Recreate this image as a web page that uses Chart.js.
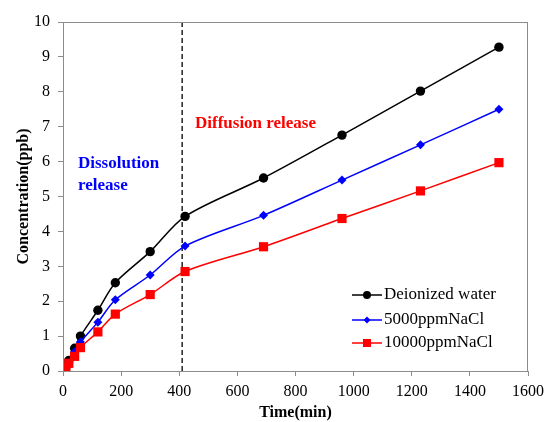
<!DOCTYPE html>
<html>
<head>
<meta charset="utf-8">
<script src="https://cdn.jsdelivr.net/npm/chart.js@4"></script>
<style>
  html, body { margin: 0; padding: 0; background: #fff; }
  #wrap { width: 550px; height: 422px; }
</style>
</head>
<body>
<div id="wrap"><canvas id="chart" width="550" height="422"></canvas></div>
<script>
// time points (min)
const times = [0, 10, 20, 40, 60, 120, 180, 300, 420, 690, 960, 1230, 1500];
// concentration (ppb)
const deionized = [0, 0.12, 0.3, 0.65, 1.0, 1.74, 2.53, 3.42, 4.43, 5.53, 6.76, 8.02, 9.28];
const nacl5000 = [0, 0.08, 0.22, 0.55, 0.83, 1.40, 2.04, 2.75, 3.58, 4.46, 5.47, 6.48, 7.50];
const nacl10000 = [0, 0.1, 0.22, 0.42, 0.67, 1.12, 1.63, 2.19, 2.85, 3.56, 4.37, 5.16, 5.97];
const seriesNames = ["Deionized water", "5000ppmNaCl", "10000ppmNaCl"];
const boundaryTime = 410;

const serif = "'Liberation Serif', 'Times New Roman', serif";
const axisGray = "#8c8c8c";

function pts(ys) {
    return times.map((t, i) => ({ x: t, y: ys[i] }));
}

const overlay = {
    id: "overlay",
    beforeDatasetsDraw(chart) {
        const { ctx, chartArea: a, scales: { x } } = chart;
        const px = x.getPixelForValue(boundaryTime);
        ctx.save();
        ctx.strokeStyle = "#000";
        ctx.lineWidth = 1.3;
        ctx.setLineDash([5, 3]);
        ctx.beginPath();
        ctx.moveTo(px, a.top);
        ctx.lineTo(px, a.bottom);
        ctx.stroke();
        ctx.restore();
    },
    afterDatasetsDraw(chart) {
        const { ctx, chartArea: a } = chart;
        ctx.save();
        // box
        ctx.strokeStyle = axisGray;
        ctx.lineWidth = 1;
        ctx.strokeRect(a.left + 0.5, a.top + 0.5, a.right - a.left - 1, a.bottom - a.top);

        // labels
        ctx.font = "bold 17px " + serif;
        ctx.textBaseline = "middle";
        ctx.fillStyle = "#0000ff";
        ctx.fillText("Dissolution", 78, 164);
        ctx.fillText("release", 78, 186);
        ctx.fillStyle = "#ff0000";
        ctx.fillText("Diffusion release", 195, 124);

        // legend
        const colors = ["#000000", "#0000ff", "#ff0000"];
        const rowsY = [295, 320, 343];
        ctx.font = "17px " + serif;
        seriesNames.forEach((name, i) => {
            const y = rowsY[i];
            ctx.strokeStyle = colors[i];
            ctx.lineWidth = 1.5;
            ctx.beginPath();
            ctx.moveTo(352, y);
            ctx.lineTo(382, y);
            ctx.stroke();
            ctx.fillStyle = colors[i];
            ctx.beginPath();
            if (i === 0) {
                ctx.arc(367, y, 4, 0, Math.PI * 2);
            } else if (i === 1) {
                ctx.moveTo(367, y - 3.5); ctx.lineTo(370.5, y);
                ctx.lineTo(367, y + 3.5); ctx.lineTo(363.5, y);
                ctx.closePath();
            } else {
                ctx.rect(363, y - 4, 8, 8);
            }
            ctx.fill();
            ctx.fillStyle = "#000";
            ctx.fillText(name, 384, y);
        });
        ctx.restore();
    }
};

new Chart(document.getElementById("chart"), {
    type: "line",
    data: {
        datasets: [
            {
                label: seriesNames[0],
                data: pts(deionized),
                borderColor: "#000000",
                backgroundColor: "#000000",
                pointStyle: "circle",
                pointRadius: 4.7,
                order: 3
            },
            {
                label: seriesNames[1],
                data: pts(nacl5000),
                borderColor: "#0000ff",
                backgroundColor: "#0000ff",
                pointStyle: "rectRot",
                pointRadius: 4.5,
                order: 2
            },
            {
                label: seriesNames[2],
                data: pts(nacl10000),
                borderColor: "#ff0000",
                backgroundColor: "#ff0000",
                pointStyle: "rect",
                pointRadius: 6.5,
                order: 1
            }
        ]
    },
    options: {
        responsive: false,
        animation: false,
        layout: { padding: { top: 22, right: 16, left: 0, bottom: 0 } },
        elements: {
            line: { borderWidth: 1.5, tension: 0.3, fill: false },
            point: { borderWidth: 0, hoverRadius: 5 }
        },
        plugins: {
            legend: { display: false },
            tooltip: { enabled: false }
        },
        scales: {
            x: {
                type: "linear",
                min: 0,
                max: 1600,
                afterFit(s) { s.height = 51; },
                ticks: {
                    stepSize: 200,
                    color: "#000",
                    padding: 6,
                    font: { family: serif, size: 16 },
                    maxRotation: 0,
                    callback: v => String(v)
                },
                grid: {
                    drawOnChartArea: false,
                    drawTicks: true,
                    tickLength: 5,
                    color: axisGray
                },
                border: { color: axisGray },
                title: {
                    display: true,
                    text: "Time(min)",
                    color: "#000",
                    padding: { top: 0, bottom: 0 },
                    font: { family: serif, size: 16, weight: "bold" }
                }
            },
            y: {
                min: 0,
                max: 10,
                afterFit(s) { s.width = 63; },
                ticks: {
                    stepSize: 1,
                    color: "#000",
                    padding: 8,
                    font: { family: serif, size: 16 }
                },
                grid: {
                    drawOnChartArea: false,
                    drawTicks: true,
                    tickLength: 5,
                    color: axisGray
                },
                border: { color: axisGray },
                title: {
                    display: true,
                    text: "Concentration(ppb)",
                    color: "#000",
                    padding: { top: 14, bottom: 0 },
                    font: { family: serif, size: 16, weight: "bold" }
                }
            }
        }
    },
    plugins: [overlay]
});
</script>
</body>
</html>
